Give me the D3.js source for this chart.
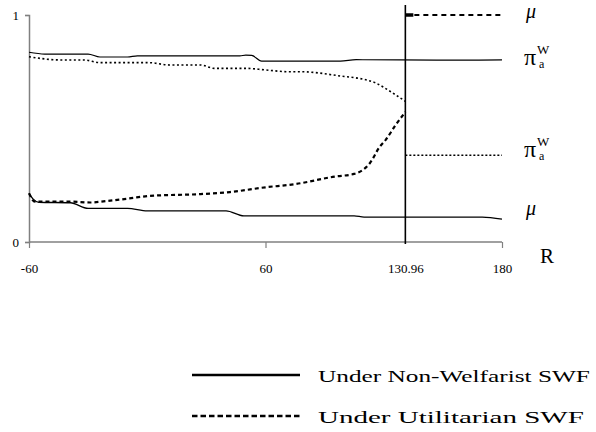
<!DOCTYPE html>
<html>
<head>
<meta charset="utf-8">
<script src="https://cdn.jsdelivr.net/npm/d3@7"></script>
<style>
  body { margin: 0; background: #fff; }
  svg { display: block; font-family: 'Liberation Serif'; }
</style>
</head>
<body>
<svg id="chart" width="596" height="432"></svg>
<script>
// x values are R, y values are shares
const xTicks = [-60, 60, 130.96, 180];
const xTickLabels = ['-60', '60', '130.96', '180'];
const yTicks = [0, 1];
const cutoff = 130.96;

// Non-Welfarist SWF
const nwPi = [[-60, 0.836], [-52, 0.828], [-30, 0.828], [-24, 0.815], [-10, 0.815], [-5, 0.82],
  [47, 0.82], [50, 0.823], [53, 0.822], [58, 0.797], [98, 0.797], [106, 0.803], [150, 0.801], [180, 0.802]];
const nwMu = [[-60, 0.2145], [-58, 0.19], [-55, 0.175], [-39, 0.173], [-30, 0.148], [-10, 0.148],
  [0, 0.137], [40, 0.137], [49, 0.115], [105, 0.115], [110, 0.11], [170, 0.11], [180, 0.101]];

// Utilitarian SWF, before and after the cutoff
const utPi = [[-60, 0.816], [-44, 0.802], [-32, 0.802], [-24, 0.79], [1, 0.79], [11, 0.78], [27, 0.78],
  [34, 0.765], [50, 0.765], [60, 0.758], [72, 0.75], [78, 0.75], [100, 0.729], [108, 0.72],
  [116, 0.70], [123, 0.665], [128, 0.637], [130.96, 0.62]];
const utMu = [[-60, 0.2145], [-57, 0.178], [-39, 0.178], [-29, 0.174], [-21, 0.18], [-9, 0.192],
  [1, 0.203], [27, 0.211], [42, 0.22], [60, 0.241], [75, 0.255], [95, 0.288], [105, 0.30],
  [113, 0.348], [118, 0.42], [121, 0.45], [126, 0.515], [130.96, 0.573]];
const utPiAfter = [[130.96, 0.382], [180, 0.382]];
const utMuAfter = [[130.96, 1], [180, 1]];

const legendLabels = ['Under Non-Welfarist SWF', 'Under Utilitarian SWF'];
const legendWidths = [272, 266];

const svg = d3.select('#chart');
const x = d3.scaleLinear().domain([-60, 180]).range([29, 502]);
const y = d3.scaleLinear().domain([0, 1]).range([242, 15]);

// axes
const xAxis = d3.axisBottom(x).tickValues(xTicks).tickSize(6).tickPadding(16)
  .tickFormat((d, i) => xTickLabels[i]);
const gx = svg.append('g').attr('transform', 'translate(0,' + y(0) + ')').call(xAxis);
gx.selectAll('line').filter(d => d === cutoff).remove();

const yAxis = d3.axisLeft(y).tickValues(yTicks).tickSize(4).tickPadding(6).tickFormat(d3.format('d'));
const gy = svg.append('g').attr('transform', 'translate(' + x(-60) + ',0)').call(yAxis);

[gx, gy].forEach(g => {
  g.attr('font-family', 'Liberation Serif').attr('font-size', 13);
  g.select('.domain').attr('stroke', '#808080').attr('stroke-width', 1.5);
  g.selectAll('.tick line').attr('stroke', '#808080').attr('stroke-width', 1.2);
  g.selectAll('text').attr('fill', '#000');
});
gx.select('.domain').attr('d', 'M' + x(-60) + ',0H' + x(180));

// vertical cutoff line
svg.append('line')
  .attr('x1', x(cutoff)).attr('x2', x(cutoff))
  .attr('y1', 5).attr('y2', y(0) + 2)
  .attr('stroke', '#000').attr('stroke-width', 1.6);

const line = d3.line().x(d => x(d[0])).y(d => y(d[1])).curve(d3.curveMonotoneX);

const series = [
  { data: nwPi, dash: null, w: 1.2 },
  { data: nwMu, dash: null, w: 1.3 },
  { data: utPi, dash: '2,2.5', w: 1.6 },
  { data: utMu, dash: '4,3', w: 2.2 },
  { data: utPiAfter, dash: '2,2', w: 1.5 },
  { data: utMuAfter, dash: '5,4', w: 2.2 }
];
svg.selectAll('.series').data(series).enter().append('path')
  .attr('class', 'series')
  .attr('d', s => line(s.data))
  .attr('fill', 'none')
  .attr('stroke', '#000')
  .attr('stroke-width', s => s.w)
  .attr('stroke-dasharray', s => s.dash);

// thick stub at start of mu = 1
svg.append('line')
  .attr('x1', x(cutoff)).attr('x2', x(cutoff) + 8)
  .attr('y1', y(1)).attr('y2', y(1))
  .attr('stroke', '#000').attr('stroke-width', 3.5);

// right-hand labels
const mu = (yy) => svg.append('text').attr('x', 526).attr('y', yy)
  .attr('font-family', 'Liberation Serif')
  .attr('font-style', 'italic').attr('font-size', 20).text('\u03bc');
const pi = (yy) => {
  const t = svg.append('text').attr('x', 524).attr('y', yy).attr('font-family', 'Liberation Serif');
  t.append('tspan').attr('font-size', 24).text('\u03c0');
  t.append('tspan').attr('x', 537).attr('dy', -11).attr('font-size', 13).text('W');
  t.append('tspan').attr('x', 539).attr('dy', 14).attr('font-size', 12).text('a');
};
mu(18);
pi(65);
pi(157);
mu(215);
svg.append('text').attr('x', 540).attr('y', 263).attr('font-family', 'Liberation Serif')
  .attr('font-size', 21).text('R');

// legend
const legend = svg.selectAll('.legend').data(legendLabels).enter().append('g')
  .attr('class', 'legend')
  .attr('transform', (d, i) => 'translate(0,' + (375 + i * 41) + ')');
legend.append('line')
  .attr('x1', 192).attr('x2', 300).attr('y1', 0).attr('y2', 0)
  .attr('stroke', '#000').attr('stroke-width', 2.5)
  .attr('stroke-dasharray', (d, i) => i ? '5.5,3' : null);
legend.append('text')
  .attr('font-family', 'Liberation Serif')
  .attr('font-size', 17)
  .text(d => d)
  .each(function (d, i) {
    // stretch to the width seen in the picture
    const w = this.getComputedTextLength();
    const sx = w > 0 ? legendWidths[i] / w : 1;
    d3.select(this).attr('transform', 'translate(318,7) scale(' + sx + ',1)');
  });
</script>
</body>
</html>
